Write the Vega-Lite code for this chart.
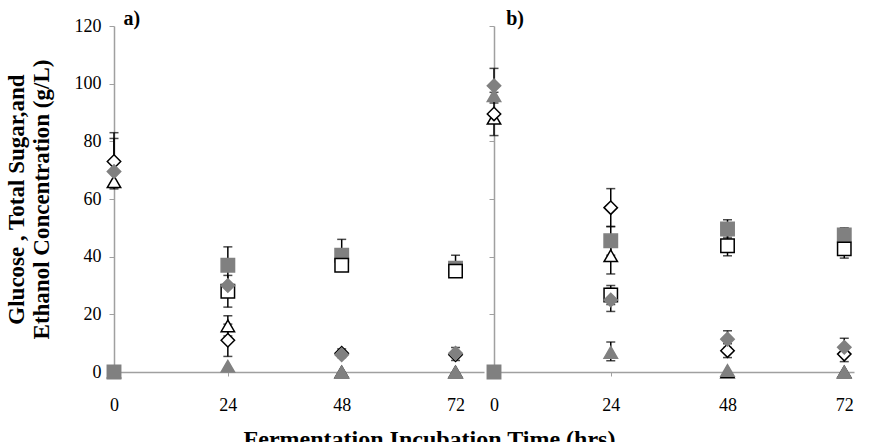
{
  "$schema": "https://vega.github.io/schema/vega-lite/v6.json",
  "background": "white",
  "padding": {"left": 5, "top": 8, "right": 5, "bottom": 5},
  "spacing": 0,
  "title": {"text": "Fermentation Incubation Time (hrs)", "orient": "bottom", "anchor": "middle", "font": "Liberation Serif", "fontSize": 24, "fontWeight": "bold", "color": "black", "offset": 14},
  "datasets": {
    "obs": [
      {"panel": "a", "time": 0, "series": "Glucose 1", "value": 66},
      {"panel": "a", "time": 0, "series": "Glucose 2", "value": 0},
      {"panel": "a", "time": 0, "series": "Ethanol 2", "value": 0},
      {"panel": "a", "time": 0, "series": "Total Sugar 1", "value": 73, "lo": 63.5, "hi": 83},
      {"panel": "a", "time": 0, "series": "Total Sugar 2", "value": 69.5, "lo": 64, "hi": 81},
      {"panel": "a", "time": 24, "series": "Glucose 1", "value": 16, "lo": 12.5, "hi": 19.5},
      {"panel": "a", "time": 24, "series": "Glucose 2", "value": 2},
      {"panel": "a", "time": 24, "series": "Ethanol 2", "value": 37, "lo": 30.5, "hi": 43.4},
      {"panel": "a", "time": 24, "series": "Ethanol 1", "value": 28, "lo": 22.5, "hi": 33.5},
      {"panel": "a", "time": 24, "series": "Total Sugar 1", "value": 11, "lo": 5.4, "hi": 16.6},
      {"panel": "a", "time": 24, "series": "Total Sugar 2", "value": 30},
      {"panel": "a", "time": 48, "series": "Glucose 1", "value": 0},
      {"panel": "a", "time": 48, "series": "Glucose 2", "value": 0},
      {"panel": "a", "time": 48, "series": "Ethanol 2", "value": 40.5, "lo": 35, "hi": 46},
      {"panel": "a", "time": 48, "series": "Ethanol 1", "value": 37, "lo": 35, "hi": 39},
      {"panel": "a", "time": 48, "series": "Total Sugar 1", "value": 6.5, "lo": 5, "hi": 8},
      {"panel": "a", "time": 48, "series": "Total Sugar 2", "value": 6},
      {"panel": "a", "time": 72, "series": "Glucose 1", "value": 0},
      {"panel": "a", "time": 72, "series": "Glucose 2", "value": 0},
      {"panel": "a", "time": 72, "series": "Ethanol 2", "value": 36, "lo": 33, "hi": 40.5},
      {"panel": "a", "time": 72, "series": "Ethanol 1", "value": 35, "lo": 33, "hi": 37},
      {"panel": "a", "time": 72, "series": "Total Sugar 1", "value": 6, "lo": 4, "hi": 8.5},
      {"panel": "a", "time": 72, "series": "Total Sugar 2", "value": 6.5},
      {"panel": "b", "time": 0, "series": "Glucose 1", "value": 88},
      {"panel": "b", "time": 0, "series": "Glucose 2", "value": 95.8},
      {"panel": "b", "time": 0, "series": "Ethanol 2", "value": 0},
      {"panel": "b", "time": 0, "series": "Total Sugar 1", "value": 89.5, "lo": 82, "hi": 97},
      {"panel": "b", "time": 0, "series": "Total Sugar 2", "value": 99.3, "lo": 93.3, "hi": 105.3},
      {"panel": "b", "time": 24, "series": "Glucose 1", "value": 40.3, "lo": 34, "hi": 46.6},
      {"panel": "b", "time": 24, "series": "Glucose 2", "value": 6.8, "lo": 3.9, "hi": 10.4},
      {"panel": "b", "time": 24, "series": "Ethanol 2", "value": 45.5, "lo": 40.5, "hi": 50.5},
      {"panel": "b", "time": 24, "series": "Ethanol 1", "value": 26.7, "lo": 23.4, "hi": 30},
      {"panel": "b", "time": 24, "series": "Total Sugar 1", "value": 57, "lo": 50.4, "hi": 63.6},
      {"panel": "b", "time": 24, "series": "Total Sugar 2", "value": 25, "lo": 21, "hi": 29},
      {"panel": "b", "time": 48, "series": "Glucose 1", "value": 0},
      {"panel": "b", "time": 48, "series": "Glucose 2", "value": 0.5},
      {"panel": "b", "time": 48, "series": "Ethanol 2", "value": 49.6, "lo": 46.5, "hi": 52.8},
      {"panel": "b", "time": 48, "series": "Ethanol 1", "value": 43.8, "lo": 40.3, "hi": 47.3},
      {"panel": "b", "time": 48, "series": "Total Sugar 1", "value": 7.4, "lo": 5, "hi": 9.8},
      {"panel": "b", "time": 48, "series": "Total Sugar 2", "value": 11.4, "lo": 8.5, "hi": 14.3},
      {"panel": "b", "time": 72, "series": "Glucose 1", "value": 0},
      {"panel": "b", "time": 72, "series": "Glucose 2", "value": 0},
      {"panel": "b", "time": 72, "series": "Ethanol 2", "value": 47.5, "lo": 45, "hi": 50},
      {"panel": "b", "time": 72, "series": "Ethanol 1", "value": 42.7, "lo": 39.5, "hi": 45.9},
      {"panel": "b", "time": 72, "series": "Total Sugar 1", "value": 6.2, "lo": 3.6, "hi": 8.8},
      {"panel": "b", "time": 72, "series": "Total Sugar 2", "value": 8.6, "lo": 5.5, "hi": 11.7}
    ]
  },
  "hconcat": [
    {
      "width": 370,
      "height": 346,
      "data": {"name": "obs"},
      "encoding": {
        "x": {"field": "time", "type": "quantitative", "scale": {"domain": [0, 78], "nice": false}, "axis": {"values": [0, 24, 48, 72], "title": null, "labelPadding": 20, "tickSize": 4, "labelFlush": false}}
      },
      "layer": [
        {
          "transform": [{"filter": "datum.panel == 'a' && isValid(datum.lo)"}],
          "mark": {"type": "errorbar", "ticks": {"size": 9, "thickness": 1.5, "color": "black"}, "rule": {"color": "black", "strokeWidth": 1.5}},
          "encoding": {
            "y": {"field": "lo", "type": "quantitative", "scale": {"domain": [0, 120], "nice": false}, "axis": {"values": [0, 20, 40, 60, 80, 100, 120], "title": ["Glucose , Total Sugar,and", "Ethanol Concentration (g/L)"], "titleFontWeight": "bold", "titleFontSize": 23, "titleLineHeight": 25, "labelPadding": 8, "titlePadding": 21, "tickSize": 5}},
            "y2": {"field": "hi"}
          }
        },
        {
          "transform": [{"filter": "datum.panel == 'a'"}],
          "mark": {"type": "point", "filled": true, "size": 180, "opacity": 1, "strokeWidth": 1.5},
          "encoding": {
            "y": {"field": "value", "type": "quantitative", "scale": {"domain": [0, 120], "nice": false}, "axis": {"values": [0, 20, 40, 60, 80, 100, 120], "title": ["Glucose , Total Sugar,and", "Ethanol Concentration (g/L)"], "titleFontWeight": "bold", "titleFontSize": 23, "titleLineHeight": 25, "labelPadding": 8, "titlePadding": 21, "tickSize": 5}},
            "shape": {"field": "series", "type": "nominal", "legend": null, "scale": {"domain": ["Total Sugar 1", "Total Sugar 2", "Glucose 1", "Glucose 2", "Ethanol 1", "Ethanol 2"], "range": ["diamond", "diamond", "triangle-up", "triangle-up", "square", "square"]}},
            "fill": {"field": "series", "type": "nominal", "legend": null, "scale": {"domain": ["Total Sugar 1", "Total Sugar 2", "Glucose 1", "Glucose 2", "Ethanol 1", "Ethanol 2"], "range": ["white", "#808080", "white", "#808080", "white", "#808080"]}},
            "stroke": {"field": "series", "type": "nominal", "legend": null, "scale": {"domain": ["Total Sugar 1", "Total Sugar 2", "Glucose 1", "Glucose 2", "Ethanol 1", "Ethanol 2"], "range": ["black", "#808080", "black", "#808080", "black", "#808080"]}}
          }
        },
        {
          "transform": [{"filter": "datum.panel == 'a' && datum.time == 0 && datum.series == 'Glucose 1'"}],
          "mark": {"type": "text", "align": "left", "baseline": "middle", "font": "Liberation Serif", "fontSize": 20, "fontWeight": "bold", "color": "black"},
          "encoding": {
            "x": {"datum": 2},
            "y": {"datum": 122.5},
            "text": {"value": "a)"}
          }
        }
      ]
    },
    {
      "width": 360,
      "height": 346,
      "data": {"name": "obs"},
      "encoding": {
        "x": {"field": "time", "type": "quantitative", "scale": {"domain": [0, 74], "nice": false}, "axis": {"values": [0, 24, 48, 72], "title": null, "labelPadding": 20, "tickSize": 4, "labelFlush": false}}
      },
      "layer": [
        {
          "transform": [{"filter": "datum.panel == 'b' && isValid(datum.lo)"}],
          "mark": {"type": "errorbar", "ticks": {"size": 9, "thickness": 1.5, "color": "black"}, "rule": {"color": "black", "strokeWidth": 1.5}},
          "encoding": {
            "y": {"field": "lo", "type": "quantitative", "scale": {"domain": [0, 120], "nice": false}, "axis": {"values": [0, 20, 40, 60, 80, 100, 120], "title": null, "labels": false, "tickSize": 5}},
            "y2": {"field": "hi"}
          }
        },
        {
          "transform": [{"filter": "datum.panel == 'b'"}],
          "mark": {"type": "point", "filled": true, "size": 180, "opacity": 1, "strokeWidth": 1.5},
          "encoding": {
            "y": {"field": "value", "type": "quantitative", "scale": {"domain": [0, 120], "nice": false}, "axis": {"values": [0, 20, 40, 60, 80, 100, 120], "title": null, "labels": false, "tickSize": 5}},
            "shape": {"field": "series", "type": "nominal", "legend": null, "scale": {"domain": ["Total Sugar 1", "Total Sugar 2", "Glucose 1", "Glucose 2", "Ethanol 1", "Ethanol 2"], "range": ["diamond", "diamond", "triangle-up", "triangle-up", "square", "square"]}},
            "fill": {"field": "series", "type": "nominal", "legend": null, "scale": {"domain": ["Total Sugar 1", "Total Sugar 2", "Glucose 1", "Glucose 2", "Ethanol 1", "Ethanol 2"], "range": ["white", "#808080", "white", "#808080", "white", "#808080"]}},
            "stroke": {"field": "series", "type": "nominal", "legend": null, "scale": {"domain": ["Total Sugar 1", "Total Sugar 2", "Glucose 1", "Glucose 2", "Ethanol 1", "Ethanol 2"], "range": ["black", "#808080", "black", "#808080", "black", "#808080"]}}
          }
        },
        {
          "transform": [{"filter": "datum.panel == 'b' && datum.time == 0 && datum.series == 'Glucose 1'"}],
          "mark": {"type": "text", "align": "left", "baseline": "middle", "font": "Liberation Serif", "fontSize": 20, "fontWeight": "bold", "color": "black"},
          "encoding": {
            "x": {"datum": 2.5},
            "y": {"datum": 122.5},
            "text": {"value": "b)"}
          }
        }
      ]
    }
  ],
  "config": {
    "view": {"stroke": null},
    "font": "Liberation Serif",
    "axis": {"grid": false, "domainColor": "#a0a0a0", "domainWidth": 1.5, "tickColor": "#a0a0a0", "tickWidth": 1, "labelFont": "Liberation Serif", "labelFontSize": 18, "labelColor": "black", "titleFont": "Liberation Serif", "titleFontSize": 18, "titleColor": "black"}
  }
}
